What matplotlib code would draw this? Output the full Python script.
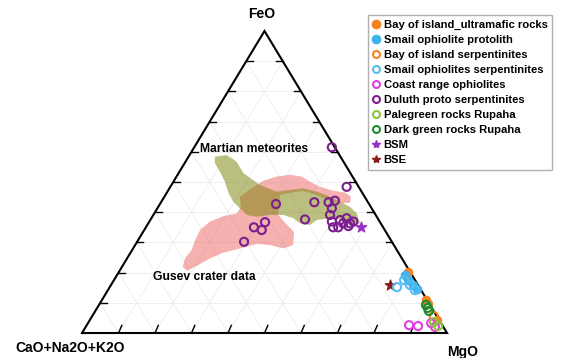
import numpy as np
import matplotlib
matplotlib.use("Agg")
import matplotlib.pyplot as plt
from matplotlib.patches import Polygon
from matplotlib.lines import Line2D

plt.rcParams['font.family'] = ['Liberation Sans', 'DejaVu Sans']

# ternary values as FeO % and MgO %, CaO+Na2O+K2O is the remainder
bay_ultra_fe = [20.2, 10.9, 4.3]
bay_ultra_mg = [79.2, 88.8, 95.1]

smail_proto_fe = [19.2, 17.5, 15.9, 14.6]
smail_proto_mg = [78.9, 80.5, 82.7, 84.5]

bay_serp_fe = [9.6, 5.6]
bay_serp_mg = [90.0, 93.6]

smail_serp_fe = [17.5, 15.9, 14.2, 15.2]
smail_serp_mg = [79.5, 81.9, 84.1, 78.7]

coast_fe = [2.6, 2.3, 3.3, 2.0]
coast_mg = [88.3, 90.9, 94.0, 95.7]

duluth_fe = [61.5, 48.4, 43.3, 43.3, 43.8, 41.3, 37.6, 39.1, 37.4, 38.0, 36.9,
             36.3, 36.3, 36.9, 35.0, 35.0, 35.4, 42.7, 35.0, 36.7, 34.1, 30.2]
duluth_mg = [37.7, 48.3, 42.0, 45.9, 47.4, 47.8, 42.3, 48.4, 52.0, 53.5, 50.0,
             53.4, 55.3, 55.9, 52.7, 51.3, 55.3, 31.8, 29.6, 31.8, 32.2, 29.3]

pale_fe = [2.3, 3.6]
pale_mg = [96.4, 94.6]

dark_fe = [9.3, 7.3, 8.3]
dark_mg = [89.6, 91.4, 90.6]

bsm_fe, bsm_mg = [35.0], [58.9]
bse_fe, bse_mg = [15.9], [76.4]

# outlined fields
martian_fe = [58.4, 58.9, 56.7, 52.9, 49.0, 46.8, 47.4, 47.9, 46.8, 45.1, 43.5,
              41.8, 39.6, 36.3, 36.3, 37.4, 38.0, 37.4, 35.8, 36.3, 38.0, 39.1,
              39.1, 38.5, 39.1, 41.3, 43.5, 46.3, 50.1, 53.4, 56.2]
martian_mg = [7.2, 10.2, 14.0, 17.8, 24.3, 29.9, 33.3, 36.7, 40.9, 45.4, 48.9,
              52.5, 55.5, 58.0, 56.2, 52.9, 48.9, 45.6, 44.6, 41.6, 38.9, 35.6,
              32.0, 28.6, 25.6, 22.6, 19.7, 17.0, 14.1, 11.1, 8.3]

gusev_fe = [45.1, 47.9, 50.4, 51.8, 52.4, 51.8, 50.1, 48.4, 47.1, 46.5, 45.1,
            43.1, 43.0, 44.4, 46.0, 47.0, 46.4, 45.7, 39.1, 36.1, 33.4, 29.1,
            28.0, 29.1, 29.5, 28.0, 26.6, 24.7, 22.2, 20.6, 22.0, 24.7, 27.5,
            30.8, 34.1, 36.9, 38.7, 39.6, 41.6]
gusev_mg = [20.7, 22.5, 24.5, 27.4, 30.8, 34.3, 37.4, 41.0, 45.3, 48.8, 51.1,
            51.9, 48.6, 44.6, 40.6, 36.8, 33.8, 31.4, 34.2, 37.9, 41.4, 43.3,
            41.2, 37.0, 33.1, 29.3, 25.4, 22.7, 20.3, 18.4, 16.6, 15.9, 16.3,
            15.6, 15.3, 16.6, 19.4, 22.6, 22.7]


def tern(fe, mg):
    fe = np.asarray(fe) / 100.0
    mg = np.asarray(mg) / 100.0
    return mg + fe / 2.0, fe


W, H = 561, 358
fig = plt.figure(figsize=(W / 100, H / 100), dpi=100)
ax = fig.add_axes([82 / W, 1 - 333 / H, 365 / W, 302 / H])
ax.set_xlim(0, 1)
ax.set_ylim(0, 1)
ax.axis('off')

# grid
gx = np.arange(10, 100, 10)
for v in gx:
    x, y = tern([v, v], [0, 100 - v])          # constant FeO
    ax.plot(x, y, color='#ececec', lw=0.6, zorder=0)
    x, y = tern([0, 100 - v], [v, v])          # constant MgO
    ax.plot(x, y, color='#ececec', lw=0.6, zorder=0)
    x, y = tern([0, 100 - v], [100 - v, 0])    # constant CaO
    ax.plot(x, y, color='#ececec', lw=0.6, zorder=0)

# fields
px, py = tern(gusev_fe, gusev_mg)
ax.add_patch(Polygon(np.column_stack([px, py]), closed=True, facecolor='#eb6561',
                     edgecolor='none', alpha=0.5, zorder=1))
px, py = tern(martian_fe, martian_mg)
ax.add_patch(Polygon(np.column_stack([px, py]), closed=True, facecolor='#798101',
                     edgecolor='none', alpha=0.5, zorder=2))

# triangle frame
ax.plot([0, 1, 0.5, 0], [0, 0, 1, 0], color='black', lw=1.5, zorder=3, clip_on=False,
        solid_joinstyle='miter')

# ticks
tl = 0.018
for v in gx / 100:
    ax.plot([v, v + tl * 0.5], [0, tl * 1.4], color='black', lw=1.0, zorder=3)
    ax.plot([v / 2, v / 2 + tl], [v, v], color='black', lw=1.0, zorder=3)
    ax.plot([1 - v / 2, 1 - v / 2 - tl], [v, v], color='black', lw=1.0, zorder=3)

ms = 34
lw = 1.5
series = [
    (bay_ultra_fe, bay_ultra_mg, 'Bay of island_ultramafic rocks', '#f5821f', 'o', True),
    (smail_proto_fe, smail_proto_mg, 'Smail ophiolite protolith', '#3db4ef', 'o', True),
    (bay_serp_fe, bay_serp_mg, 'Bay of island serpentinites', '#f5821f', 'o', False),
    (smail_serp_fe, smail_serp_mg, 'Smail ophiolites serpentinites', '#55bdf0', 'o', False),
    (coast_fe, coast_mg, 'Coast range ophiolites', '#e33fe3', 'o', False),
    (duluth_fe, duluth_mg, 'Duluth proto serpentinites', '#7b1e8e', 'o', False),
    (pale_fe, pale_mg, 'Palegreen rocks Rupaha', '#8cc63f', 'o', False),
    (dark_fe, dark_mg, 'Dark green rocks Rupaha', '#1f8a2a', 'o', False),
    (bsm_fe, bsm_mg, 'BSM', '#9b30c8', '*', True),
    (bse_fe, bse_mg, 'BSE', '#8b1a1a', '*', True),
]

handles = []
for fe, mg, name, col, mk, filled in series:
    x, y = tern(fe, mg)
    if filled:
        ax.scatter(x, y, s=ms if mk == 'o' else 60, marker=mk, color=col,
                   zorder=4, clip_on=False)
        handles.append(Line2D([], [], ls='none', marker=mk, markersize=6,
                              color=col, label=name))
    else:
        ax.scatter(x, y, s=ms, marker=mk, facecolors='none', edgecolors=col,
                   linewidths=lw, zorder=5, clip_on=False)
        handles.append(Line2D([], [], ls='none', marker=mk, markersize=5,
                              markerfacecolor='none', markeredgecolor=col,
                              markeredgewidth=lw, label=name))

leg = fig.legend(handles=handles, loc='upper left', bbox_to_anchor=(368 / W, 1 - 15 / H),
                 borderaxespad=0, labelspacing=0.45, handlelength=0.6,
                 handletextpad=0.4, borderpad=0.4, fancybox=False, framealpha=1,
                 edgecolor='#b0b0b0', prop={'weight': 'bold', 'size': 8.1})
leg.get_frame().set_linewidth(1.0)

# labels
fig.text(262 / W, 1 - 14 / H, 'FeO', ha='center', va='center', fontsize=10, fontweight='bold')
fig.text(15 / W, 1 - 348 / H, 'CaO+Na2O+K2O', ha='left', va='center', fontsize=10,
         fontweight='bold')
fig.text(463 / W, 1 - 352 / H, 'MgO', ha='center', va='center', fontsize=10, fontweight='bold')
fig.text(254 / W, 1 - 149 / H, 'Martian meteorites', ha='center', va='center', fontsize=8.7,
         fontweight='bold')
fig.text(153 / W, 1 - 277 / H, 'Gusev crater data', ha='left', va='center', fontsize=8.7,
         fontweight='bold')

fig.savefig('out.png', dpi=100)
